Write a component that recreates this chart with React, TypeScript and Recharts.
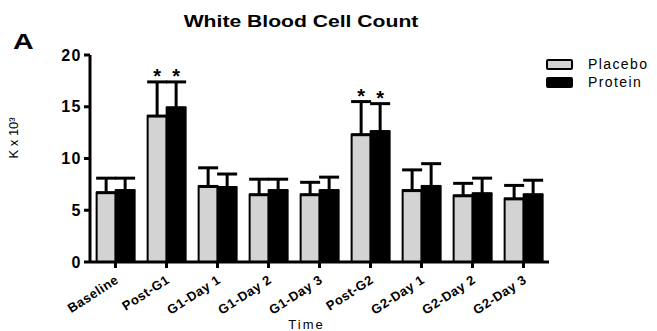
import React from 'react';
import { BarChart, Bar, XAxis, YAxis, ErrorBar, LabelList, Legend, Label } from 'recharts';

const categories = ['Baseline', 'Post-G1', 'G1-Day 1', 'G1-Day 2', 'G1-Day 3', 'Post-G2', 'G2-Day 1', 'G2-Day 2', 'G2-Day 3'];
const placeboMean = [6.7, 14.1, 7.3, 6.5, 6.5, 12.3, 6.9, 6.4, 6.1];
const placeboSD = [1.4, 3.3, 1.8, 1.5, 1.2, 3.2, 2.0, 1.2, 1.3];
const proteinMean = [6.9, 14.9, 7.2, 6.9, 6.9, 12.6, 7.3, 6.6, 6.5];
const proteinSD = [1.2, 2.5, 1.3, 1.1, 1.3, 2.7, 2.2, 1.5, 1.4];
const placeboSig = [false, true, false, false, false, true, false, false, false];
const proteinSig = [false, true, false, false, false, true, false, false, false];
const yTicks = [0, 5, 10, 15, 20];

const FONT = '"Liberation Sans", Arial, sans-serif';

const data = categories.map((name, i) => ({
  name,
  placebo: placeboMean[i],
  protein: proteinMean[i],
  placeboErr: [0, placeboSD[i]],
  proteinErr: [0, proteinSD[i]],
  placeboStar: placeboSig[i] ? '*' : '',
  proteinStar: proteinSig[i] ? '*' : '',
}));

const series = [
  { key: 'placebo', name: 'Placebo', fill: '#d3d3d3' },
  { key: 'protein', name: 'Protein', fill: '#000000' },
];

// star sits just above the top of the error bar
const makeStar = (means: number[], sds: number[]) => (props: any) => {
  const { x, y, width, height, value, index } = props;
  if (!value) return null;
  const errPx = (Number(height) * sds[index]) / means[index];
  return (
    <text
      x={Number(x) + Number(width) / 2}
      y={Number(y) - errPx + 1}
      textAnchor="middle"
      fontSize={20}
      fontWeight="bold"
      fontFamily={FONT}
      fill="#000"
    >
      {value}
    </text>
  );
};

const XTick = (props: any) => {
  const { x, y, payload } = props;
  const ax = x + 4;
  const ay = y + 12;
  return (
    <text
      x={ax}
      y={ay}
      transform={`rotate(-33, ${ax}, ${ay})`}
      textAnchor="end"
      fontSize={13}
      fontWeight="bold"
      fontFamily={FONT}
      letterSpacing={0.5}
      fill="#000"
    >
      {payload.value}
    </text>
  );
};

const renderLegend = () => (
  <div style={{ fontFamily: FONT, fontSize: 14, letterSpacing: 1.4, color: '#000' }}>
    {series.map(s => (
      <div key={s.key} style={{ display: 'flex', alignItems: 'center', height: 18 }}>
        <span
          style={{
            display: 'inline-block',
            width: 23,
            height: 7,
            background: s.fill,
            border: '2px solid #000',
            borderRadius: 2,
            marginRight: 15,
          }}
        />
        {s.name}
      </div>
    ))}
  </div>
);

export default function App() {
  return (
    <div style={{ position: 'absolute', left: 0, top: 0, width: 657, height: 331, background: '#fff', fontFamily: FONT, overflow: 'hidden' }}>
      <div style={{ position: 'absolute', left: 13, top: 29, fontSize: 22, fontWeight: 'bold', transform: 'scaleX(1.3)', transformOrigin: 'left' }}>A</div>
      <div style={{ position: 'absolute', left: 0, width: 602, top: 13, textAlign: 'center', fontSize: 16, fontWeight: 'bold', transform: 'scaleX(1.32)', transformOrigin: '301px 0' }}>
        White Blood Cell Count
      </div>
      <BarChart
        width={657}
        height={331}
        data={data}
        margin={{ top: 55, right: 108, left: 0, bottom: 0 }}
        barCategoryGap="13%"
        barGap={0}
      >
        <XAxis
          dataKey="name"
          height={69}
          interval={0}
          tick={<XTick />}
          tickSize={6}
          axisLine={{ stroke: '#000', strokeWidth: 3 }}
          tickLine={{ stroke: '#000', strokeWidth: 3 }}
        >
          <Label value="Time" position="insideBottom" offset={2} dx={-13} fontSize={13} letterSpacing={2} fill="#000" fontFamily={FONT} />
        </XAxis>
        <YAxis
          width={90}
          domain={[0, 20]}
          ticks={yTicks}
          tickSize={6}
          tick={{ fontSize: 16, fontWeight: 'bold', fill: '#000', fontFamily: FONT, letterSpacing: 1.5 }}
          axisLine={{ stroke: '#000', strokeWidth: 3 }}
          tickLine={{ stroke: '#000', strokeWidth: 3 }}
        >
          <Label value="K x 10³" angle={-90} position="insideLeft" offset={13} fontSize={13} fill="#000" fontFamily={FONT} />
        </YAxis>
        <Legend
          layout="vertical"
          align="center"
          verticalAlign="middle"
          content={renderLegend}
          wrapperStyle={{ position: 'absolute', top: 55, left: 546, width: 111 }}
        />
        <Bar dataKey="placebo" name="Placebo" fill="#d3d3d3" stroke="#000" strokeWidth={2} isAnimationActive={false}>
          <ErrorBar dataKey="placeboErr" width={10} stroke="#000" strokeWidth={3} direction="y" />
          <LabelList dataKey="placeboStar" content={makeStar(placeboMean, placeboSD)} />
        </Bar>
        <Bar dataKey="protein" name="Protein" fill="#000" stroke="#000" strokeWidth={2} isAnimationActive={false}>
          <ErrorBar dataKey="proteinErr" width={10} stroke="#000" strokeWidth={3} direction="y" />
          <LabelList dataKey="proteinStar" content={makeStar(proteinMean, proteinSD)} />
        </Bar>
      </BarChart>
    </div>
  );
}
